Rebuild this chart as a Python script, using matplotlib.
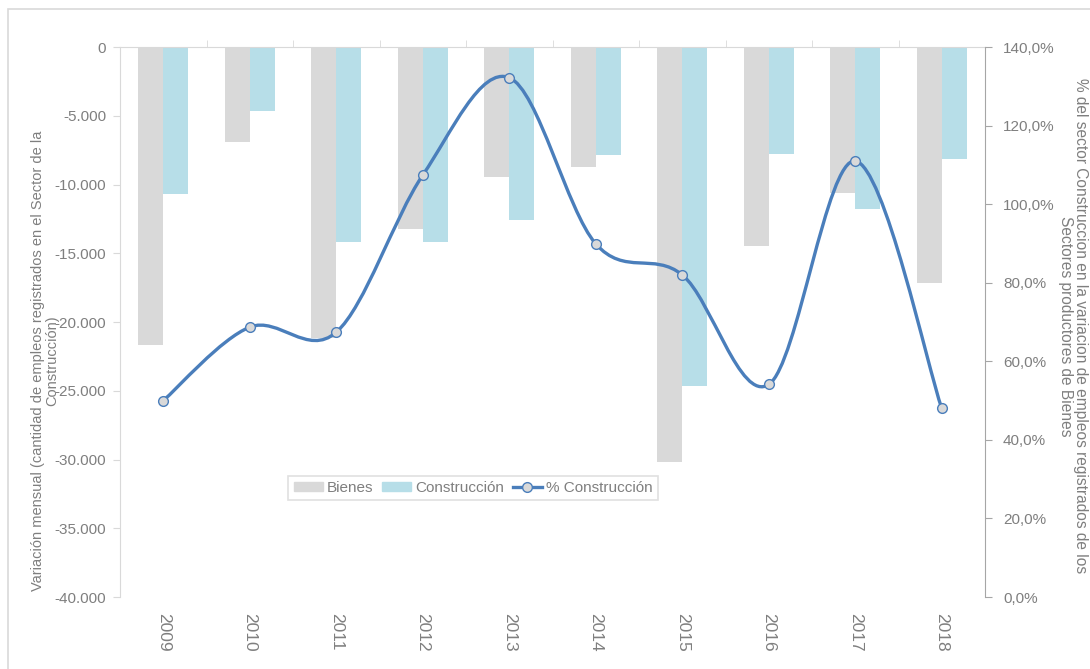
import numpy as np
import matplotlib
matplotlib.use("Agg")
import matplotlib.pyplot as plt
from matplotlib.path import Path
from matplotlib.patches import PathPatch, Patch, Rectangle
from matplotlib.lines import Line2D
from matplotlib.ticker import FuncFormatter, MultipleLocator

# data
years = ['2009', '2010', '2011', '2012', '2013', '2014', '2015', '2016', '2017', '2018']
bienes = [-21670, -6910, -21160, -13240, -9480, -8750, -30200, -14470, -10600, -17160]
construccion = [-10710, -4660, -14180, -14180, -12560, -7860, -24630, -7780, -11760, -8170]
pct_construccion = [50.0, 68.7, 67.4, 107.4, 132.2, 89.9, 82.0, 54.1, 111.0, 48.0]

GRAY = '#D9D9D9'
BLUE_BAR = '#B7DEE8'
LINE = '#4A7EBB'
TXT = '#7F7F7F'

plt.rcParams['font.family'] = ['Liberation Sans', 'DejaVu Sans']


def smooth_path(xs, ys):
    """Excel-like smoothed line as cubic Bezier segments through the points."""
    pts = np.column_stack([xs, ys]).astype(float)
    n = len(pts)
    verts = [pts[0]]
    codes = [Path.MOVETO]
    for i in range(n - 1):
        p_prev = pts[i - 1] if i > 0 else pts[i]
        p_next2 = pts[i + 2] if i + 2 < n else pts[i + 1]
        c1 = pts[i] + (pts[i + 1] - p_prev) / 6.0
        c2 = pts[i + 1] - (p_next2 - pts[i]) / 6.0
        verts += [c1, c2, pts[i + 1]]
        codes += [Path.CURVE4] * 3
    return Path(verts, codes)


fig = plt.figure(figsize=(10.9, 6.69), dpi=100)
ax = fig.add_axes([0.1101, 0.1076, 0.7936, 0.8221])

# outer chart border
fig.patches.append(Rectangle((0.0073, -0.2), 1.5, 0.2 + 0.9865, transform=fig.transFigure,
                             fill=False, edgecolor=GRAY, linewidth=1.2, zorder=0))

x = np.arange(len(years))
w = 0.289
ax.bar(x - w / 2, bienes, width=w, color=GRAY, zorder=2)
ax.bar(x + w / 2, construccion, width=w, color=BLUE_BAR, zorder=2)

ax.set_xlim(-0.5, len(years) - 0.5)
ax.set_ylim(-40000, 0)
ax.yaxis.set_major_locator(MultipleLocator(5000))
ax.yaxis.set_major_formatter(FuncFormatter(lambda v, p: f"{int(v):,}".replace(",", ".")))

ax.set_xticks(x)
ax.set_xticklabels(years, rotation=-90, fontsize=12.5, color=TXT)
ax.set_xticks(np.arange(0.5, len(years) - 1, 1.0), minor=True)
ax.tick_params(axis='x', which='major', bottom=False, top=False, pad=8)
ax.tick_params(axis='x', which='minor', bottom=False, top=True, direction='out',
               length=5, color=GRAY)
ax.tick_params(axis='y', which='major', direction='out', length=5, color=GRAY,
               labelsize=11, labelcolor=TXT, pad=5)

for s in ['bottom', 'right']:
    ax.spines[s].set_visible(False)
ax.spines['top'].set_color(GRAY)
ax.spines['left'].set_color(GRAY)

ax.set_ylabel("Variación mensual (cantidad de empleos registrados en el Sector de la\nConstrucción)",
              fontsize=10.5, color=TXT, multialignment='center', linespacing=1.0)
ax.yaxis.set_label_coords(-0.07, 0.43)

ax2 = ax.twinx()
ax2.set_ylim(0, 140)
ax2.yaxis.set_major_locator(MultipleLocator(20))
ax2.yaxis.set_major_formatter(FuncFormatter(lambda v, p: f"{v:.1f}%".replace(".", ",")))
ax2.tick_params(axis='y', direction='out', length=5, color='#A6A6A6',
                labelsize=11, labelcolor=TXT, pad=8)
for s in ['top', 'bottom', 'left']:
    ax2.spines[s].set_visible(False)
ax2.spines['right'].set_color('#A6A6A6')

ax2.add_patch(PathPatch(smooth_path(x, pct_construccion), facecolor='none',
                        edgecolor=LINE, linewidth=2.4, zorder=3))
ax2.plot(x, pct_construccion, linestyle='none', marker='o', markersize=7,
         markerfacecolor=GRAY, markeredgecolor=LINE, markeredgewidth=1.0, zorder=4)

ax2.set_ylabel("% del sector Construccion en la variacion de empleos registrados de los\nSectores productores de Bienes",
               fontsize=11.2, color=TXT, rotation=-90, multialignment='center',
               linespacing=1.0, va='center', ha='center')
ax2.yaxis.set_label_coords(1.102, 0.493)

handles = [Patch(color=GRAY), Patch(color=BLUE_BAR),
           Line2D([], [], color=LINE, linewidth=2.4, marker='o', markersize=7,
                  markerfacecolor=GRAY, markeredgecolor=LINE)]
leg = ax2.legend(handles, ['Bienes', 'Construcción', '% Construcción'],
                 loc='center', bbox_to_anchor=(0.408, 0.198), ncol=3, fontsize=11,
                 frameon=True, fancybox=False, handlelength=1.9, handleheight=0.55,
                 handletextpad=0.25, columnspacing=0.6, borderpad=0.35,
                 labelcolor=TXT)
leg.get_frame().set_edgecolor(GRAY)
leg.get_frame().set_linewidth(1.2)

fig.savefig('out.png', dpi=100)
